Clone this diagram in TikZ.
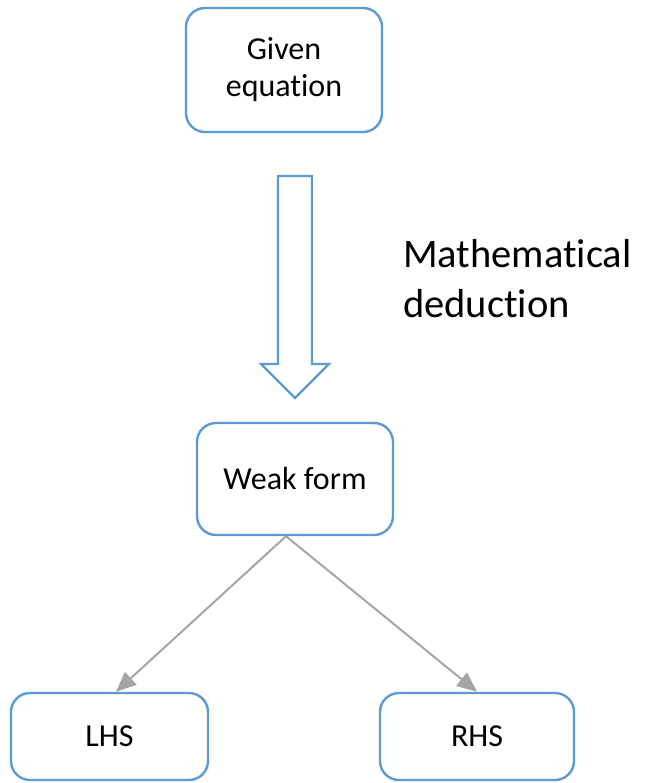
\documentclass[tikz,border=0pt]{standalone}
\usepackage{fontspec}
\setmainfont[Ligatures=NoCommon]{Carlito}
\usetikzlibrary{arrows.meta}
\definecolor{boxblue}{HTML}{5B9BD5}
\definecolor{linegray}{HTML}{A5A5A5}
\tikzset{
  flowbox/.style={draw=boxblue, line width=2.4pt, rounded corners=19pt, fill=white,
    align=center, inner sep=0pt, font=\fontsize{32}{37}\selectfont},
  grayarrow/.style={draw=linegray, line width=2pt,
    -{Triangle[length=20pt,width=17pt]}, fill=linegray},
  bigtext/.style={inner sep=0pt, anchor=base west, font=\fontsize{40.5}{50}\selectfont}
}
\begin{document}
\begin{tikzpicture}[x=1pt,y=-1pt]
\useasboundingbox (0,0) rectangle (646,783);
\node[flowbox, minimum width=196pt, minimum height=124pt] (given) at (284,70) {Given\\equation};
\node[flowbox, minimum width=196pt, minimum height=112pt] (weak) at (295,479) {Weak form};
\node[flowbox, minimum width=197pt, minimum height=87pt] (lhs) at (109.5,736.5) {LHS};
\node[flowbox, minimum width=194pt, minimum height=87pt] (rhs) at (477,736.5) {RHS};
\draw[boxblue, line width=2.4pt, line join=miter, fill=white]
  (278,176) -- (312,176) -- (312,364) -- (329,364) -- (295,398) -- (261,364) -- (278,364) -- cycle;
\node[bigtext] (m1) at (403,267) {Mathematical};
\node[bigtext] (m2) at (403,317) {deduction};
\draw[grayarrow] ([xshift=-9pt]weak.south) -- ([xshift=6.5pt]lhs.north);
\draw[grayarrow] ([xshift=-9pt]weak.south) -- (rhs.north);
\end{tikzpicture}
\end{document}
